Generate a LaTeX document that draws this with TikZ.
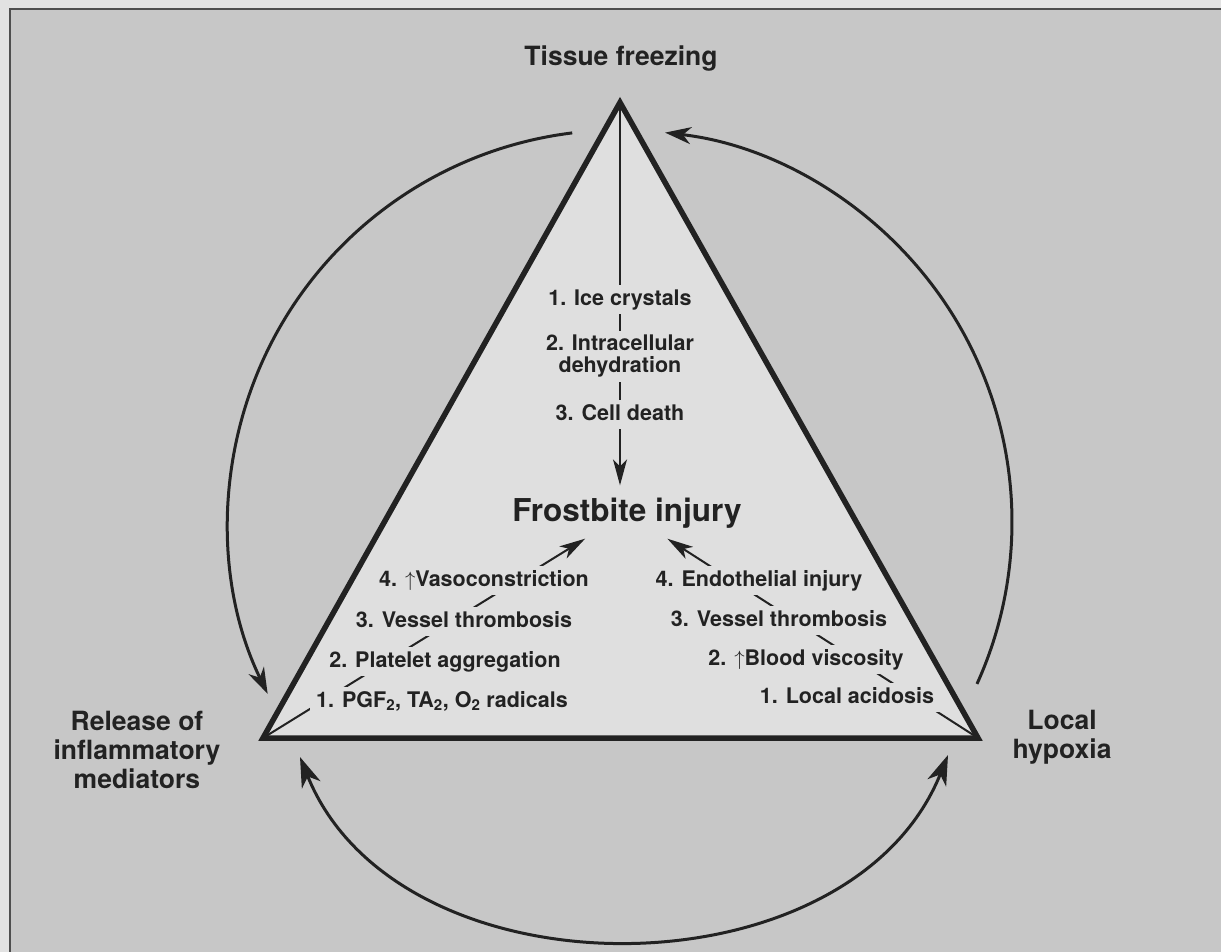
\documentclass[tikz,border=0pt]{standalone}
\usepackage{fontspec}
\setmainfont{TeX Gyre Heros}
\usepackage{tikz}
\usetikzlibrary{arrows.meta,calc,positioning}
\definecolor{paper}{HTML}{E2E2E2}
\definecolor{panel}{HTML}{C7C7C7}
\definecolor{wedge}{HTML}{DFDFDF}
\definecolor{ink}{HTML}{222222}
\tikzset{
	frostbite cycle/.style={
		x=1pt, y=-1pt,
		every node/.style={text=ink, align=center},
		tri/.style={draw=ink, line width=5.5pt, line join=miter},
		cyc/.style={draw=ink, line width=3pt},
		tie/.style={draw=ink, line width=2pt},
		ar/.style={-{Stealth[length=26pt, width=14pt, inset=7pt]}, shorten >=3pt},
		arc ar/.style={-{Stealth[length=26pt, width=17pt, inset=8pt]}},
		big ar/.style={{Stealth[length=30pt, width=20pt, inset=9pt]}-{Stealth[length=30pt, width=20pt, inset=9pt]}}
		},
	stage/.style={fill=wedge, inner xsep=6pt, inner ysep=4pt, anchor=base,
		font=\fontsize{21.5}{22}\selectfont\bfseries},
	one line/.style={text height=16pt, text depth=5pt},
	corner/.style={inner sep=0pt, font=\fontsize{26.5}{29}\selectfont\bfseries},
	hub/.style={inner sep=9pt, anchor=base, font=\fontsize{31.5}{34}\selectfont\bfseries}
}

\begin{document}
\begin{tikzpicture}[frostbite cycle]
	\useasboundingbox (0,0) rectangle (1221,952);
	\fill[paper] (0,0) rectangle (1221,952);
	\fill[panel] (10,9) rectangle (1221,952);
	\draw[ink!80, line width=2pt] (10,952) -- (10,9) -- (1221,9);

	% triangle corners and the centre of the cycle
	\coordinate (apex) at (620,102.5);
	\coordinate (lv) at (263,738);
	\coordinate (rv) at (978,738);
	\coordinate (O) at (620,522);
	\fill[wedge] (apex) -- (lv) -- (rv) -- cycle;

	\node[hub] (fb) at (627,521) {Frostbite injury};
	\draw[tie, ar] (apex) -- (apex |- fb.north);
	\draw[tie, ar] (lv) -- (fb);
	\draw[tie, ar] (rv) -- (fb);

	\node[stage, one line] (ice) at (620,305) {1. Ice crystals};
	\node[stage, anchor=center] (dehyd) at (620,356.5) {2. Intracellular\\dehydration};
	\node[stage, one line] (death) at (620,420) {3. Cell death};

	\node[stage, one line] (pgf) at (442,707) {1. PGF\textsubscript{2}, TA\textsubscript{2}, O\textsubscript{2} radicals};
	\node[stage, one line] (plat) at (445,667) {2. Platelet aggregation};
	\node[stage, one line] (thrL) at (464,627) {3. Vessel thrombosis};
	\node[stage, one line] (vaso) at (484,586) {4. $\uparrow$Vasoconstriction};

	\node[stage, one line] (endo) at (759,586) {4. Endothelial injury};
	\node[stage, one line] (thrR) at (779,626) {3. Vessel thrombosis};
	\node[stage, one line] (visc) at (806,665) {2. $\uparrow$Blood viscosity};
	\node[stage, one line] (acid) at (847,703) {1. Local acidosis};

	\draw[tri] (apex) -- (lv) -- (rv) -- cycle;

	\node[corner, anchor=base] (tf) at (621,66) {Tissue freezing};
	\node[corner] (rel) at (137,750) {Release of\\inflammatory\\mediators};
	\node[corner] (hyp) at (1062,737) {Local\\hypoxia};

	% the cycle round the triangle
	\coordinate (tf-out) at ($(O)+(-97:392)$);
	\coordinate (hyp-out) at ($(O)+(24.4:392)$);
	\coordinate (rel-in) at (300,757);
	\coordinate (hyp-in) at (948,755);
	\draw[cyc, arc ar] (tf-out) arc[start angle=-97, end angle=-206, radius=392];
	\draw[cyc, arc ar] (hyp-out) arc[start angle=24.4, end angle=-83.4, radius=392];
	\draw[cyc, big ar] (rel-in) .. controls +(98,244) and +(-98,244) .. (hyp-in);
\end{tikzpicture}
\end{document}
